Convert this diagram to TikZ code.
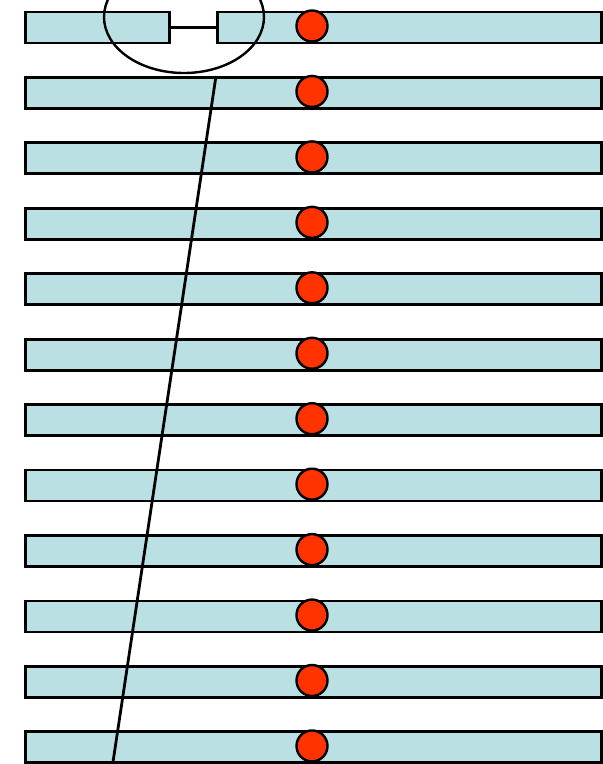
\documentclass[tikz,border=0pt]{standalone}
\usetikzlibrary{shapes.geometric}
\definecolor{barfill}{HTML}{BBE0E3}
\definecolor{dotred}{HTML}{FF3300}
\begin{document}
\begin{tikzpicture}[x=1pt,y=-1pt,
  bar/.style={draw=black,fill=barfill,line width=2.8pt,inner sep=0pt,minimum height=31pt,anchor=north west},
  dot/.style={circle,draw=black,fill=dotred,line width=2.4pt,inner sep=0pt,minimum size=31pt},
  link/.style={draw=black,line width=2.8pt}]
\useasboundingbox (0,0) rectangle (603,764);
% first row split
\node[bar,minimum width=144pt] (b0l) at (24,10.5) {};
\node[bar,minimum width=384pt] (b0r) at (216,10.5) {};
\draw[link] (b0l.east) -- (b0r.west);
\foreach \i in {1,...,11} {
  \node[bar,minimum width=576pt] (b\i) at (24,{10.5+65.45*\i}) {};
}
\node[ellipse,draw=black,line width=2.4pt,minimum width=160pt,minimum height=112pt,inner sep=0pt] (ell) at (184,17) {};
\coordinate (top) at (216,76);
\coordinate (bot) at (113,762);
\draw[link] (top) -- (bot);
\foreach \i in {0,...,11} {
  \node[dot] (d\i) at (312,{26+65.45*\i}) {};
}
\end{tikzpicture}
\end{document}
